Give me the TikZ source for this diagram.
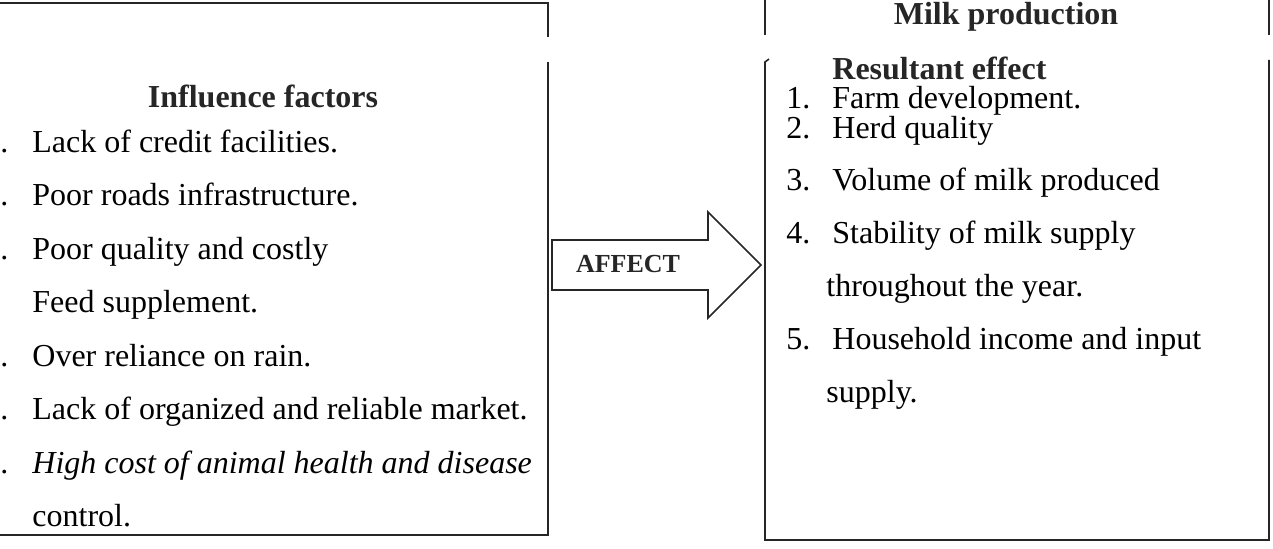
\documentclass[tikz,border=0pt]{standalone}
\usepackage{fontspec}
\setmainfont{Liberation Serif}
\begin{document}
\begin{tikzpicture}[x=0.5pt,y=-0.5pt,
  frame/.style={draw=black!85, line width=0.8pt},
  body/.style={font=\fontsize{16}{19}\selectfont, anchor=west, inner sep=0pt, text height=11pt, text depth=3.5pt},
  ttl/.style={font=\fontsize{16}{19}\selectfont\bfseries, inner sep=0pt, text height=11pt, text depth=3.5pt, text=black!85},
  arrowtxt/.style={font=\fontsize{13}{15}\selectfont\bfseries, inner sep=0pt, text=black!85},
  ]
\useasboundingbox (0,0) rectangle (1273,549);
% left frame
\draw[frame] (0,3) -- (548,3) -- (548,37);
\draw[frame] (548,62) -- (548,535) -- (0,535);
% right frame
\draw[frame] (765,0) -- (765,35);
\draw[frame] (1269,0) -- (1269,35);
\draw[frame] (769,59) -- (765,62) -- (765,540) -- (1269,540) -- (1269,60);
% arrow
\draw[frame, fill=white] (552,240) -- (708,240) -- (708,212) -- (761,265) -- (708,318) -- (708,290) -- (552,290) -- cycle;
\node[arrowtxt] (aff) at (628,264) {AFFECT};
% left list
\node[ttl] (inf) at (263,100) {Influence factors};
\foreach \y/\t [count=\i] in {145/{Lack of credit facilities.},198/{Poor roads infrastructure.},252/{Poor quality and costly},359/{Over reliance on rain.},412/{Lack of organized and reliable market.}}{
  \node[body] (l\i) at (32,\y) {\t};
  \node[body] (d\i) at (0,\y) {.};
}
\node[body] (l6) at (32,305) {Feed supplement.};
\node[body] (l7) at (32,466) {\itshape High cost of animal health and disease};
\node[body] (d7) at (0,466) {.};
\node[body] (l8) at (32,519) {control.};
% right list
\node[ttl] (milk) at (1006,17) {Milk production};
\node[ttl, anchor=west] (res) at (832,72) {Resultant effect};
\foreach \y/\n/\t [count=\i] in {101/1./{Farm development.},131/2./{Herd quality},183/3./{Volume of milk produced},236/4./{Stability of milk supply},342/5./{Household income and input}}{
  \node[body] (rn\i) at (786,\y) {\n};
  \node[body] (r\i) at (832,\y) {\t};
}
\node[body] (r6) at (826,289) {throughout the year.};
\node[body] (r7) at (826,395) {supply.};
\end{tikzpicture}
\end{document}
